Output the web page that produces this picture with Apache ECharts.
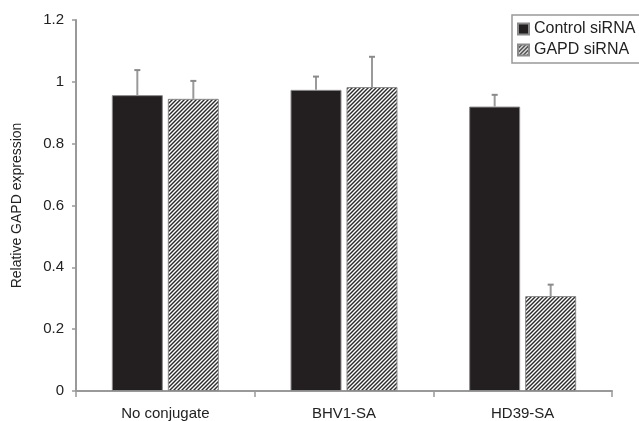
<!DOCTYPE html>
<html>
<head>
<meta charset="utf-8">
<script src="https://cdn.jsdelivr.net/npm/echarts@6/dist/echarts.min.js"></script>
<style>
html,body{margin:0;padding:0;background:#fff;}
#chart{width:639px;height:421px;}
</style>
</head>
<body>
<div id="chart"></div>
<script>
var categories = ['No conjugate', 'BHV1-SA', 'HD39-SA'];
var seriesNames = ['Control siRNA', 'GAPD siRNA'];
var controlMeans = [0.957, 0.974, 0.92];
var controlErr = [0.081, 0.043, 0.038];
var gapdMeans = [0.945, 0.983, 0.307];
var gapdErr = [0.058, 0.098, 0.037];
var yTicks = [0, 0.2, 0.4, 0.6, 0.8, 1, 1.2];

var BAR_W = 51, GAP = 5;
var FONT = 'Liberation Sans, Arial, sans-serif';

function makeHatch() {
  var c = document.createElement('canvas');
  c.width = 4; c.height = 4;
  var g = c.getContext('2d');
  g.fillStyle = '#ffffff';
  g.fillRect(0, 0, 4, 4);
  g.strokeStyle = '#2b2b2b';
  g.lineWidth = 1.4;
  for (var k = -1; k <= 1; k++) {
    g.beginPath();
    g.moveTo(k * 4 - 1, 5);
    g.lineTo(k * 4 + 5, -1);
    g.stroke();
  }
  return c;
}
var hatch = makeHatch();

function errData(means, errs) {
  return means.map(function (m, i) { return [i, m, errs[i]]; });
}

function errSeries(name, means, errs, side) {
  return {
    type: 'custom',
    name: name + ' err',
    z: 5,
    silent: true,
    data: errData(means, errs),
    renderItem: function (params, api) {
      var c = api.coord([api.value(0), api.value(1)]);
      var t = api.coord([api.value(0), api.value(1) + api.value(2)]);
      var x = c[0] + side * (BAR_W + GAP) / 2;
      var st = { stroke: '#9a9a9a', lineWidth: 2 };
      return {
        type: 'group',
        children: [
          { type: 'line', shape: { x1: x, y1: c[1], x2: x, y2: t[1] }, style: st },
          { type: 'line', shape: { x1: x - 3, y1: t[1], x2: x + 3, y2: t[1] }, style: { stroke: '#8a8a8a', lineWidth: 2 } }
        ]
      };
    }
  };
}

var chart = echarts.init(document.getElementById('chart'), null, { renderer: 'canvas' });
chart.setOption({
  animation: false,
  backgroundColor: '#fff',
  grid: { left: 76, right: 27, top: 20, bottom: 30 },
  legend: {
    data: seriesNames,
    orient: 'vertical',
    left: 512, top: 15,
    padding: [6, 14, 5, 5],
    icon: 'rect',
    itemWidth: 11, itemHeight: 11, itemGap: 5,
    borderColor: '#999', borderWidth: 1.5,
    textStyle: { fontSize: 16, color: '#222', fontFamily: FONT }
  },
  xAxis: {
    type: 'category',
    data: categories,
    axisLine: { lineStyle: { color: '#999', width: 2 } },
    axisTick: { show: true, length: 6, lineStyle: { color: '#999', width: 1.5 } },
    axisLabel: { fontSize: 15, color: '#222', margin: 15, fontFamily: FONT }
  },
  yAxis: {
    type: 'value',
    min: 0, max: 1.2, interval: 0.2,
    name: 'Relative GAPD expression',
    nameLocation: 'middle',
    nameGap: 52,
    nameTextStyle: { fontSize: 14, color: '#222', fontFamily: FONT },
    splitLine: { show: false },
    axisLine: { show: true, lineStyle: { color: '#999', width: 2 } },
    axisTick: { show: true, length: 4, lineStyle: { color: '#999', width: 1.5 } },
    axisLabel: {
      fontSize: 15, color: '#222', margin: 12, fontFamily: FONT,
      formatter: function (v) {
        for (var i = 0; i < yTicks.length; i++) {
          if (Math.abs(yTicks[i] - v) < 1e-9) return String(yTicks[i]);
        }
        return '';
      }
    }
  },
  series: [
    {
      name: seriesNames[0], type: 'bar', data: controlMeans,
      barWidth: BAR_W, barGap: (GAP / BAR_W * 100).toFixed(1) + '%',
      itemStyle: { color: '#231f20', borderColor: '#8a8a8a', borderWidth: 1 }
    },
    {
      name: seriesNames[1], type: 'bar', data: gapdMeans,
      barWidth: BAR_W,
      itemStyle: { color: { image: hatch, repeat: 'repeat' }, borderColor: '#8a8a8a', borderWidth: 1 }
    },
    errSeries(seriesNames[0], controlMeans, controlErr, -1),
    errSeries(seriesNames[1], gapdMeans, gapdErr, 1)
  ]
});
</script>
</body>
</html>
